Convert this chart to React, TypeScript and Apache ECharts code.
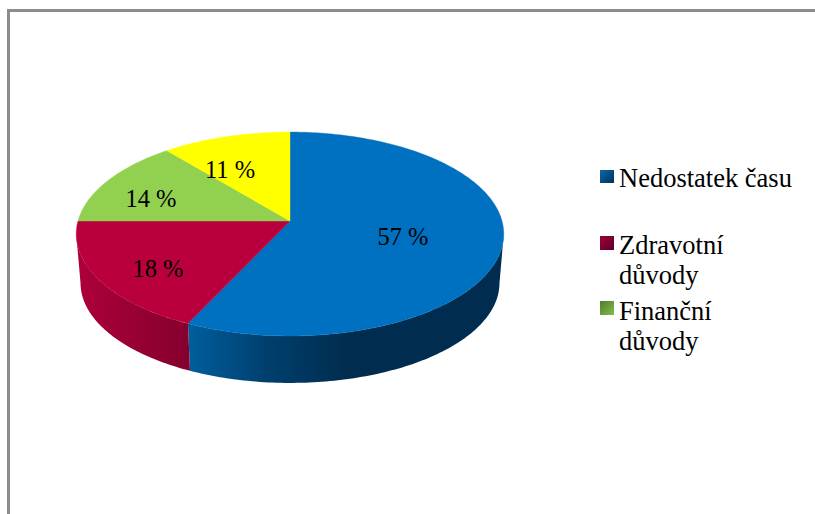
import React, { useEffect, useRef } from "react";
import * as echarts from "echarts";

const categories = ["Nedostatek času", "Zdravotní důvody", "Finanční důvody", ""];
const shareValues = [57, 18, 14, 11];
const legendLines = [["Nedostatek času"], ["Zdravotní", "důvody"], ["Finanční", "důvody"]];

const W = 815, H = 514;
const topColors = ["#0070C0", "#BA003C", "#92D050", "#FFFF00"];
const sideStops = [
  [[0, "#005E9C"], [0.5, "#003F6E"], [1, "#002D4F"]],
  [[0, "#AC003A"], [1, "#85002E"]],
  [[0, "#6FA03C"], [1, "#6FA03C"]],
  [[0, "#C8C800"], [1, "#C8C800"]],
];
const sideSpan = [[189, 345], [80, 189], [76, 120], [120, 290]];
const labelPos = [[403, 236], [158, 268], [151, 198], [230, 169]];
const legendIcons = [
  { y: 170, h: 13, from: "#0A6AAA", to: "#00305A" },
  { y: 236, h: 14, from: "#A0003A", to: "#5A0024" },
  { y: 301, h: 14, from: "#4F7D2C", to: "#86BC4A" },
];
const legendRows = [178, 245, 311];
const lineGap = 30;

// projected pie: apex, radius, perspective
const AX = 290, AY = 221, R = 212, S = 100.3, K = 0.1275;
const ELL_CY = 234, SCALE = 0.98, DEPTH = 49;
const VIS_A = 97.5, VIS_B = 262.5;

const rim = (deg: number) => {
  const t = (deg * Math.PI) / 180;
  const u = Math.sin(t), v = Math.cos(t), w = 1 + K * v;
  return [AX + (u * R) / w, AY - (v * S) / w];
};
const lower = (p: number[]) => [AX + (p[0] - AX) * SCALE, ELL_CY + (p[1] - ELL_CY) * SCALE + DEPTH];

const arc = (a: number, b: number) => {
  const pts: number[][] = [];
  const n = Math.max(2, Math.ceil(Math.abs(b - a)));
  for (let i = 0; i <= n; i++) pts.push(rim(a + ((b - a) * i) / n));
  return pts;
};

const total = shareValues.reduce((s, v) => s + v, 0);

const renderItem = (params: any, api: any) => {
  const i = params.dataIndex;
  let before = 0;
  for (let k = 0; k < i; k++) before += shareValues[k];
  const value = api.value(0);
  const a = (before / total) * 360;
  const b = ((before + value) / total) * 360;
  const children: any[] = [];
  const sa = Math.max(a, VIS_A), sb = Math.min(b, VIS_B);
  if (sb > sa) {
    const up = arc(sa, sb);
    children.push({
      type: "polygon",
      shape: { points: [...up, ...up.map(lower).reverse()] },
      style: {
        fill: {
          type: "linear", global: true,
          x: sideSpan[i][0], y: 0, x2: sideSpan[i][1], y2: 0,
          colorStops: sideStops[i].map((s: any) => ({ offset: s[0], color: s[1] })),
        },
      },
      z2: 1,
    });
  }
  children.push({
    type: "polygon",
    shape: { points: [[AX, AY], ...arc(a, b)] },
    style: { fill: topColors[i], stroke: topColors[i], lineWidth: 0.4 },
    z2: 2,
  });
  children.push({
    type: "text",
    x: labelPos[i][0], y: labelPos[i][1],
    style: {
      text: `${value} %`, fill: "#000",
      font: '24.5px "Liberation Serif"',
      align: "center", verticalAlign: "middle",
    },
    z2: 10,
  });
  return { type: "group", children };
};

export default function App() {
  const ref = useRef<HTMLDivElement>(null);
  useEffect(() => {
    document.body.style.margin = "0";
    const chart = echarts.init(ref.current!, null, { renderer: "svg" });
    const legendGraphics: any[] = [];
    legendLines.forEach((lines, i) => {
      const ic = legendIcons[i];
      legendGraphics.push({
        type: "rect",
        shape: { x: 600, y: ic.y, width: 14, height: ic.h },
        style: {
          fill: {
            type: "linear", x: 0, y: 0, x2: 1, y2: 1,
            colorStops: [{ offset: 0, color: ic.from }, { offset: 1, color: ic.to }],
          },
        },
      });
      lines.forEach((line, j) => {
        legendGraphics.push({
          type: "text",
          x: 619, y: legendRows[i] + j * lineGap,
          style: {
            text: line, fill: "#000",
            font: '26.5px "Liberation Serif"',
            textAlign: "left", textVerticalAlign: "middle",
          },
        });
      });
    });
    chart.setOption({
      animation: false,
      backgroundColor: "#fff",
      graphic: [
        { type: "line", shape: { x1: 8.5, y1: 10.5, x2: W, y2: 10.5 }, style: { stroke: "#8C8C8C", lineWidth: 3 } },
        { type: "line", shape: { x1: 8.5, y1: 9, x2: 8.5, y2: H }, style: { stroke: "#8C8C8C", lineWidth: 3 } },
        ...legendGraphics,
      ],
      series: [{
        type: "custom",
        coordinateSystem: "none",
        name: "Důvody",
        data: shareValues.map((v, i) => ({ name: categories[i], value: [v] })),
        renderItem,
      }],
    });
    return () => chart.dispose();
  }, []);
  return <div ref={ref} style={{ width: W, height: H, position: "absolute", left: 0, top: 0 }} />;
}
